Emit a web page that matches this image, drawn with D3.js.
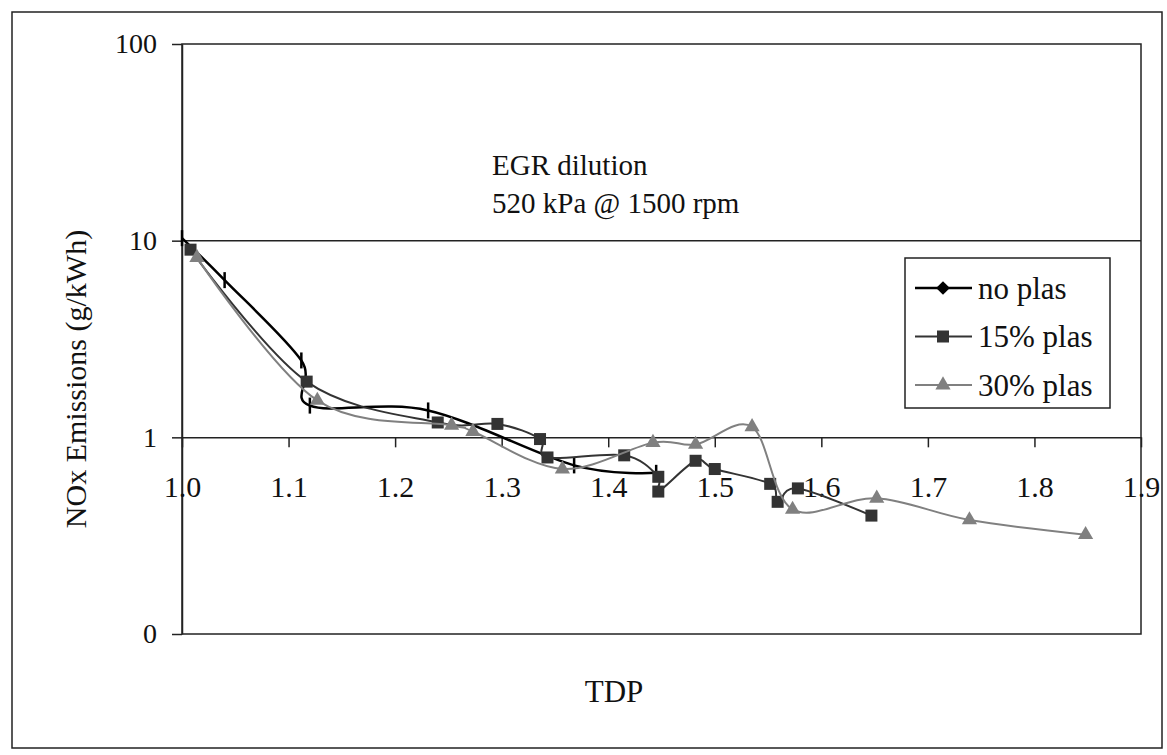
<!DOCTYPE html>
<html>
<head>
<meta charset="utf-8">
<script src="https://cdn.jsdelivr.net/npm/d3@7"></script>
<style>
	body { margin: 0; background: #fff; }
	text { font-family: "Liberation Serif", "Times New Roman", serif; fill: #111; }
</style>
</head>
<body>
<div id="chart-area"></div>
<script>

// data
var tdpNoPlas = [1.0, 1.040, 1.112, 1.120, 1.231, 1.368, 1.445];
var noxNoPlas = [10.3, 6.3, 2.46, 1.45, 1.37, 0.72, 0.66];

var tdp15 = [1.008, 1.117, 1.240, 1.296, 1.336, 1.343, 1.415, 1.447, 1.447, 1.482, 1.500, 1.552, 1.559, 1.578, 1.647];
var nox15 = [9.0, 1.92, 1.19, 1.17, 0.98, 0.79, 0.81, 0.63, 0.53, 0.76, 0.69, 0.58, 0.47, 0.55, 0.40];

var tdp30 = [1.014, 1.127, 1.253, 1.273, 1.357, 1.442, 1.482, 1.535, 1.573, 1.652, 1.739, 1.848];
var nox30 = [8.2, 1.54, 1.15, 1.07, 0.69, 0.94, 0.92, 1.13, 0.43, 0.49, 0.38, 0.32];

var xTicks = [1.0, 1.1, 1.2, 1.3, 1.4, 1.5, 1.6, 1.7, 1.8, 1.9];
var yTicks = [0.1, 1, 10, 100];
var yTickLabels = ["0", "1", "10", "100"];

var seriesNames = ["no plas", "15% plas", "30% plas"];
var notes = ["EGR dilution", "520 kPa @ 1500 rpm"];

var width = 1167,
	height = 755;

var svg = d3.select("#chart-area").append("svg")
	.attr("width", width)
	.attr("height", height);

// outer frame
svg.append("rect")
	.attr("x", 12).attr("y", 12)
	.attr("width", 1150).attr("height", 736)
	.attr("fill", "none")
	.attr("stroke", "#222")
	.attr("stroke-width", 1.5);

var plot = {left: 182, top: 44, right: 1141, bottom: 634};

var x = d3.scaleLinear()
	.domain([1.0, 1.9])
	.range([plot.left, plot.right]);

var y = d3.scaleLog()
	.domain([0.1, 100])
	.range([plot.bottom, plot.top]);

// plot area border
svg.append("rect")
	.attr("x", plot.left).attr("y", plot.top)
	.attr("width", plot.right - plot.left)
	.attr("height", plot.bottom - plot.top)
	.attr("fill", "none")
	.attr("stroke", "#222")
	.attr("stroke-width", 1.5);

// gridline at 10
svg.append("line")
	.attr("x1", plot.left).attr("x2", plot.right)
	.attr("y1", y(10)).attr("y2", y(10))
	.attr("stroke", "#222")
	.attr("stroke-width", 1.5);

// y axis
var yAxis = d3.axisLeft(y)
	.tickValues(yTicks)
	.tickSize(10)
	.tickSizeOuter(0)
	.tickPadding(15)
	.tickFormat(function(d, i) { return yTickLabels[i]; });

svg.append("g")
	.attr("class", "axis yAxis")
	.attr("transform", "translate(" + plot.left + ",0)")
	.call(yAxis)
	.selectAll("text")
	.attr("font-size", 28);

// x axis crosses at 1
var xAxis = d3.axisBottom(x)
	.tickValues(xTicks)
	.tickSize(10)
	.tickSizeOuter(0)
	.tickPadding(28)
	.tickFormat(d3.format(".1f"));

svg.append("g")
	.attr("class", "axis xAxis")
	.attr("transform", "translate(0," + y(1) + ")")
	.call(xAxis)
	.selectAll("text")
	.attr("font-size", 30);

svg.selectAll(".axis path, .axis line")
	.attr("stroke", "#222")
	.attr("stroke-width", 1.5);
svg.selectAll(".axis text")
	.attr("fill", "#111");

// axis titles
svg.append("text")
	.attr("text-anchor", "middle")
	.attr("transform", "translate(75,379) rotate(-90)")
	.attr("dominant-baseline", "central")
	.attr("font-size", 30)
	.text("NOx Emissions (g/kWh)");

svg.append("text")
	.attr("text-anchor", "middle")
	.attr("x", 614)
	.attr("y", 691)
	.attr("dominant-baseline", "central")
	.attr("font-size", 31)
	.text("TDP");

// annotation
svg.selectAll(".note")
	.data(notes)
	.enter()
	.append("text")
	.attr("class", "note")
	.attr("x", 492)
	.attr("y", function(d, i) { return 165 + i * 38; })
	.attr("dominant-baseline", "central")
	.attr("font-size", 29)
	.text(function(d) { return d; });

// series
var series = [
	{name: seriesNames[0], xs: tdpNoPlas, ys: noxNoPlas, color: "#000", width: 2.5, marker: "tick"},
	{name: seriesNames[1], xs: tdp15, ys: nox15, color: "#333", width: 2, marker: "square"},
	{name: seriesNames[2], xs: tdp30, ys: nox30, color: "#808080", width: 2, marker: "triangle"}
];

var line = d3.line()
	.x(function(d) { return x(d[0]); })
	.y(function(d) { return y(d[1]); })
	.curve(d3.curveCatmullRom.alpha(0));

var drawMarker = function(g, type, color, legend) {
	if (type == "tick") {
		if (legend) {
			g.append("path")
				.attr("d", d3.symbol().type(d3.symbolDiamond2).size(120)())
				.attr("fill", color);
		} else {
			g.append("line")
				.attr("y1", -8).attr("y2", 8)
				.attr("stroke", color)
				.attr("stroke-width", 2.5);
		}
	} else if (type == "square") {
		g.append("rect")
			.attr("x", -6).attr("y", -6)
			.attr("width", 12).attr("height", 12)
			.attr("fill", color);
	} else {
		g.append("path")
			.attr("d", d3.symbol().type(d3.symbolTriangle).size(100)())
			.attr("fill", color);
	}
};

series.forEach(function(s) {
	var pts = s.xs.map(function(v, i) { return [v, s.ys[i]]; });

	svg.append("path")
		.datum(pts)
		.attr("d", line)
		.attr("fill", "none")
		.attr("stroke", s.color)
		.attr("stroke-width", s.width);

	svg.selectAll(".pt-" + s.marker)
		.data(pts)
		.enter()
		.append("g")
		.attr("class", "pt-" + s.marker)
		.attr("transform", function(d) {
			return "translate(" + x(d[0]) + "," + y(d[1]) + ")";
		})
		.each(function() {
			drawMarker(d3.select(this), s.marker, s.color, false);
		});
});

// legend
var legend = svg.append("g")
	.attr("transform", "translate(905,258)");

legend.append("rect")
	.attr("width", 205)
	.attr("height", 150)
	.attr("fill", "#fff")
	.attr("stroke", "#222")
	.attr("stroke-width", 1.5);

series.forEach(function(s, i) {
	var row = legend.append("g")
		.attr("transform", "translate(0," + (30 + i * 48.5) + ")");
	row.append("line")
		.attr("x1", 10).attr("x2", 67)
		.attr("stroke", s.color)
		.attr("stroke-width", s.width);
	var m = row.append("g").attr("transform", "translate(38,0)");
	drawMarker(m, s.marker, s.color, true);
	row.append("text")
		.attr("x", 73)
		.attr("dominant-baseline", "central")
		.attr("font-size", 31)
		.text(s.name);
});

</script>
</body>
</html>
